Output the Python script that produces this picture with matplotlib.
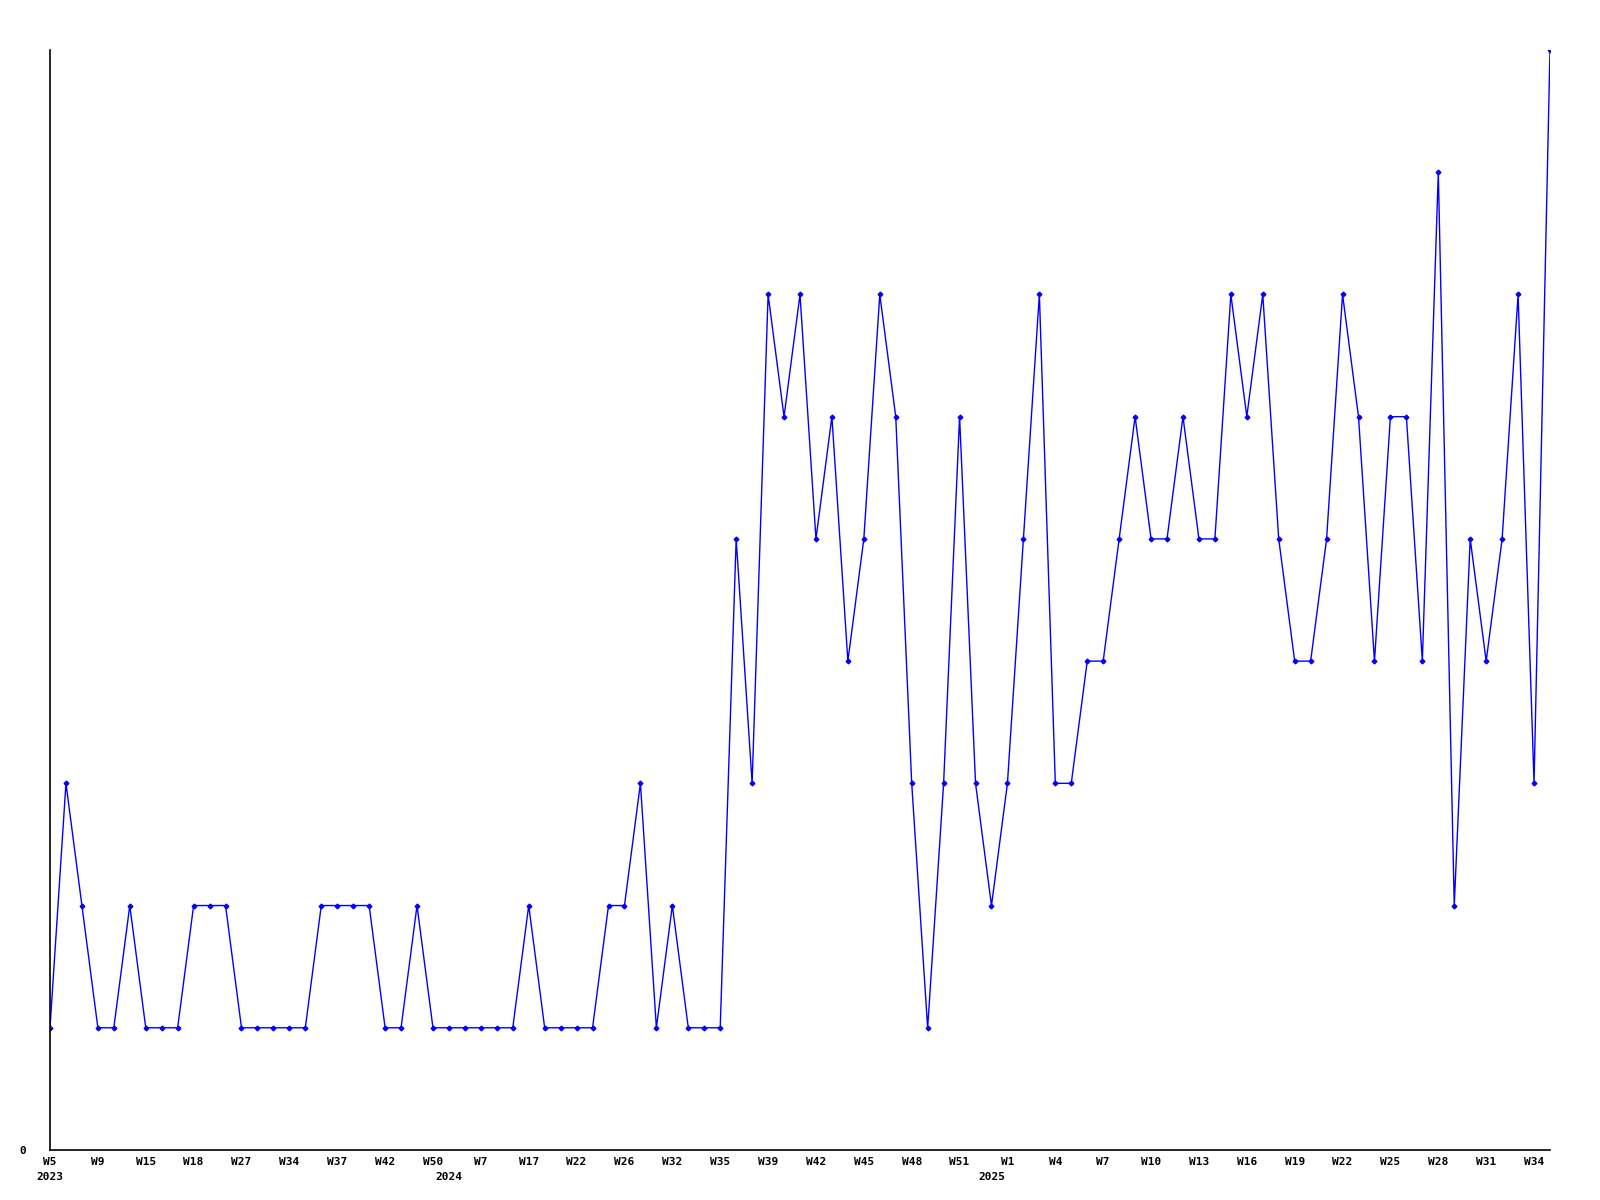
import matplotlib
matplotlib.use("Agg")
import matplotlib.pyplot as plt
import matplotlib.transforms as mtransforms

# weekly counts, one point per week that has data
values = [1, 3, 2, 1, 1, 2, 1, 1, 1, 2, 2, 2, 1, 1, 1, 1, 1, 2, 2, 2,
          2, 1, 1, 2, 1, 1, 1, 1, 1, 1, 2, 1, 1, 1, 1, 2, 2, 3, 1, 2,
          1, 1, 1, 5, 3, 7, 6, 7, 5, 6, 4, 5, 7, 6, 3, 1, 3, 6, 3, 2,
          3, 5, 7, 3, 3, 4, 4, 5, 6, 5, 5, 6, 5, 5, 7, 6, 7, 5, 4, 4,
          5, 7, 6, 4, 6, 6, 4, 8, 2, 5, 4, 5, 7, 3, 9]

# labels shown on every third point
week_labels = ["W5", "W9", "W15", "W18", "W27", "W34", "W37", "W42", "W50",
               "W7", "W17", "W22", "W26", "W32", "W35", "W39", "W42", "W45",
               "W48", "W51", "W1", "W4", "W7", "W10", "W13", "W16", "W19",
               "W22", "W25", "W28", "W31", "W34"]
year_labels = ["2023", "2024", "2025"]
year_pos = [0, 25, 59]

font = {"family": "DejaVu Sans Mono", "weight": "bold", "size": 8}

fig = plt.figure(figsize=(16, 12), dpi=100)
ax = fig.add_axes([50 / 1600, 50 / 1200, 1500 / 1600, 1100 / 1200])

x = list(range(len(values)))
ax.plot(x, values, color="#0000ff", linewidth=1.0, marker="D", markersize=2.4)

ax.set_xlim(0, len(values) - 1)
ax.set_ylim(0, 9)

for s in ["top", "right"]:
    ax.spines[s].set_visible(False)
for s in ["left", "bottom"]:
    ax.spines[s].set_linewidth(1.2)

ax.set_xticks(x[::3])
ax.set_xticklabels(week_labels, fontdict=font)
ax.set_yticks([0])
ax.set_yticklabels(["0"], fontdict=font)
ax.tick_params(axis="x", length=0, pad=5)
ax.tick_params(axis="y", length=0, pad=17)

trans = mtransforms.blended_transform_factory(ax.transData, ax.transAxes)
for yl, pos in zip(year_labels, year_pos):
    ax.text(pos, -0.0245, yl, transform=trans, ha="center", va="center", **font)

fig.savefig("out.png", dpi=100)
